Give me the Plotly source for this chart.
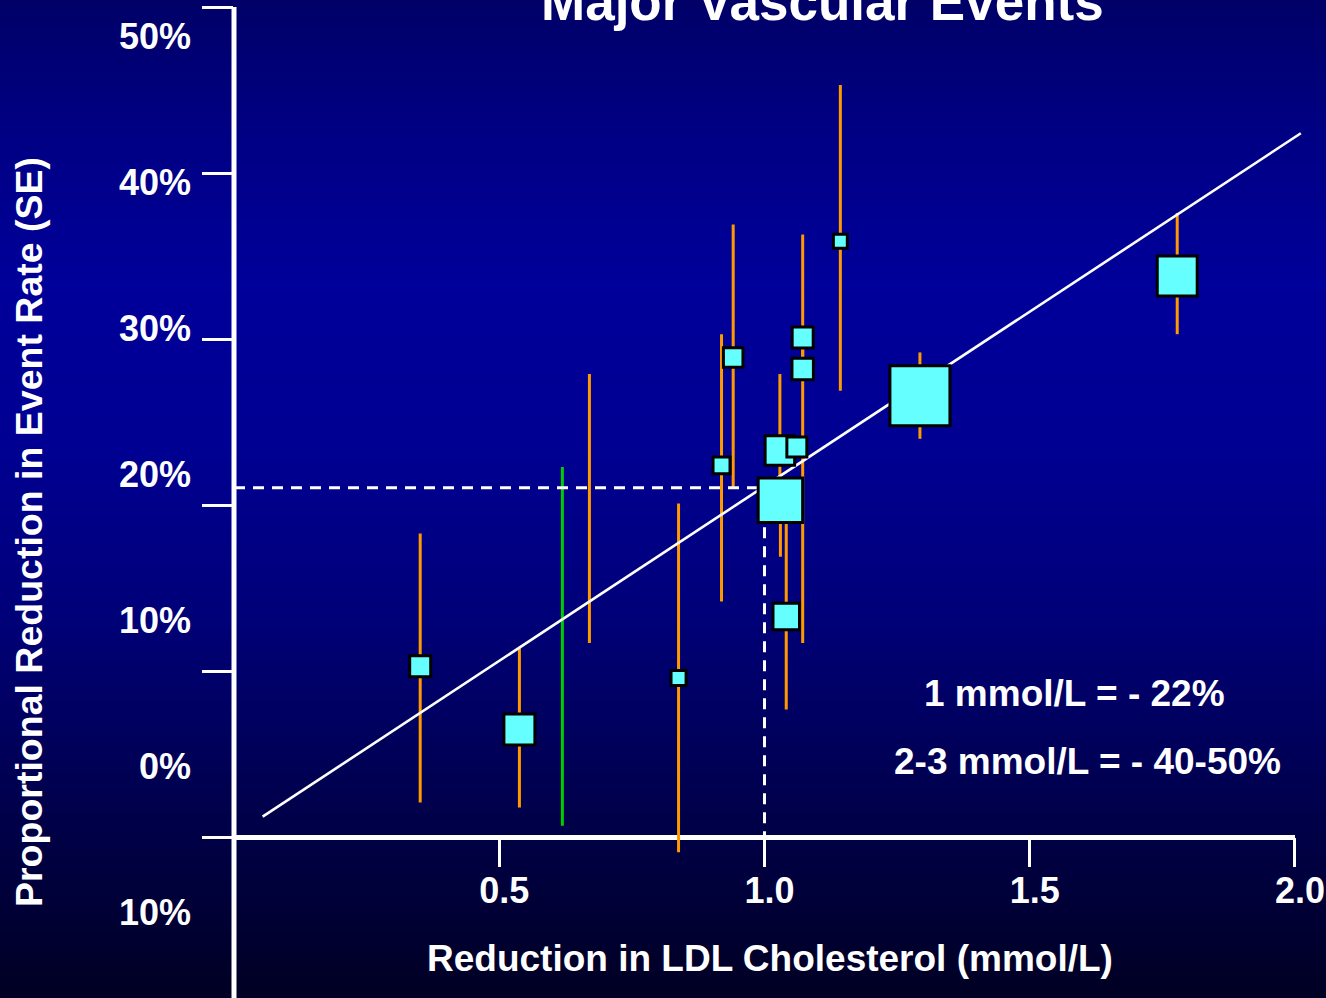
import zlib, struct, base64
import plotly.graph_objects as go

# ---------------- data ----------------
# studies drawn with a box (LDL reduction mmol/L, proportional reduction %, CI low, CI high, relative weight)
study_x  = [0.351, 0.538, 0.838, 0.919, 0.941, 1.029, 1.061, 1.072, 1.072, 1.030, 1.041, 1.143, 1.293, 1.778]
study_y  = [10.3,  6.5,   9.6,   22.4,  28.9,  23.3,  23.5,  30.1,  28.2,  20.3,  13.3,  35.9,  26.6,  33.8]
study_lo = [2.1,   1.8,  -0.9,   14.2,  21.1,  21.5,  22.9,  28.5,  11.7,  16.9,  7.7,   26.9,  24.0,  30.3]
study_hi = [18.3,  11.4,  20.1,  30.3,  36.9,  27.9,  24.1,  36.3,  29.5,  21.5,  18.9,  45.3,  29.2,  37.6]
study_w  = [12.3,  26.7,  6.3,   8.0,   10.6,  24.2,  11.1,  12.3,  12.8,  55.0,  19.5,  5.4,   100.0, 44.4]

# confidence intervals shown without a box
ci_only_x  = [0.670, 0.619]
ci_only_lo = [11.7, 0.7]
ci_only_hi = [27.9, 22.3]
ci_only_color = ["#FF9900", "#00CC00"]

# fitted line end points and the 1 mmol/L reference
fit_x = [0.054, 2.011]
fit_y = [1.25, 42.4]
ref_x = 1.0
ref_y = 21.05

y_ticks = [0, 10, 20, 30, 40, 50]
x_ticks = [0.5, 1.0, 1.5, 2.0]
x_tick_text = ["0.5", "1.0", "1.5", "2.0"]
label_vals = [50, 40, 30, 20, 10, 0, -10]
label_text = ["50%", "40%", "30%", "20%", "10%", "0%", "10%"]

title_text = "Major Vascular Events"
x_title = "Reduction in LDL Cholesterol (mmol/L)"
y_title = "Proportional Reduction in Event Rate (SE)"
note1 = "1 mmol/L = - 22%"
note2 = "2-3 mmol/L = - 40-50%"

# ---------------- layout geometry ----------------
W, H = 1326, 998
ML, MR, MT, MB = 234, 16, 7, 0
PW, PH = W - ML - MR, H - MT - MB
X_RANGE = [0, 2.0283]
Y_RANGE = [-9.67, 50.0]
Y2_RANGE = [-15.90, 52.02]

def px_x(p):
    return (p - ML) / PW

def px_y(p):
    return (H - MB - p) / PH

FONT = "Liberation Sans, Arial, Helvetica, sans-serif"

# background gradient as a tiny PNG
stops = [(0, 104), (120, 130), (280, 154), (450, 146), (620, 120), (800, 78), (998, 36)]
rows = []
N = 256
for i in range(N):
    p = i / (N - 1) * H
    for (p0, b0), (p1, b1) in zip(stops[:-1], stops[1:]):
        if p0 <= p <= p1:
            t = (p - p0) / (p1 - p0)
            b = b0 + (b1 - b0) * t
            break
    rows.append((0, 0, int(round(b))))

def make_png(rows):
    raw = b"".join(b"\x00" + bytes(c) * 2 for c in rows)
    def chunk(t, d):
        c = struct.pack(">I", len(d)) + t + d
        return c + struct.pack(">I", zlib.crc32(t + d) & 0xffffffff)
    png = (b"\x89PNG\r\n\x1a\n"
           + chunk(b"IHDR", struct.pack(">IIBBBBB", 2, len(rows), 8, 2, 0, 0, 0))
           + chunk(b"IDAT", zlib.compress(raw))
           + chunk(b"IEND", b""))
    return "data:image/png;base64," + base64.b64encode(png).decode()

bg = make_png(rows)

fig = go.Figure()

# CI lines
ci_x, ci_y = [], []
for x, lo, hi in zip(study_x, study_lo, study_hi):
    ci_x += [x, x, None]
    ci_y += [lo, hi, None]
fig.add_trace(go.Scatter(x=ci_x, y=ci_y, mode="lines",
                         line=dict(color="#FF9900", width=3), hoverinfo="skip", showlegend=False))
for x, lo, hi, c in zip(ci_only_x, ci_only_lo, ci_only_hi, ci_only_color):
    fig.add_trace(go.Scatter(x=[x, x], y=[lo, hi], mode="lines",
                             line=dict(color=c, width=3), hoverinfo="skip", showlegend=False))

# fitted line
fig.add_trace(go.Scatter(x=fit_x, y=fit_y, mode="lines",
                         line=dict(color="white", width=2.6), hoverinfo="skip", showlegend=False))
# dashed reference lines
fig.add_trace(go.Scatter(x=[0, ref_x, ref_x], y=[ref_y, ref_y, 0], mode="lines",
                         line=dict(color="white", width=3, dash="11px,8px"),
                         hoverinfo="skip", showlegend=False))

# boxes
max_d = 60
sizeref = 2.0 * max(study_w) / (max_d ** 2)
fig.add_trace(go.Scatter(x=study_x, y=study_y, mode="markers",
                         marker=dict(symbol="square", size=study_w, sizemode="area", sizeref=sizeref,
                                     opacity=1, color="#66FFFF", line=dict(color="black", width=3)),
                         showlegend=False))

# dummy trace for the label axis
fig.add_trace(go.Scatter(x=[None], y=[None], yaxis="y2", showlegend=False, hoverinfo="skip"))

# axis lines
fig.add_shape(type="line", xref="x", yref="y", x0=0, x1=2.0, y0=0, y1=0,
              line=dict(color="white", width=5), layer="below")
fig.add_shape(type="line", xref="paper", yref="paper", x0=0, x1=0, y0=0, y1=1,
              line=dict(color="white", width=5), layer="above")

fig.update_layout(
    width=W, height=H,
    margin=dict(l=ML, r=MR, t=MT, b=MB, pad=0),
    paper_bgcolor="#000060",
    plot_bgcolor="rgba(0,0,0,0)",
    showlegend=False,
    font=dict(family=FONT, color="white", size=36),
    xaxis=dict(range=X_RANGE, anchor="free", position=(0 - Y_RANGE[0]) / (Y_RANGE[1] - Y_RANGE[0]),
               showgrid=False, zeroline=False, showline=False,
               tickmode="array", tickvals=x_ticks, ticktext=x_tick_text,
               ticks="outside", ticklen=29, tickwidth=3, tickcolor="white",
               ticklabelstandoff=-8, ticklabelshift=5,
               tickfont=dict(family=FONT, size=36, color="white", weight="bold")),
    yaxis=dict(range=Y_RANGE, showgrid=False, zeroline=False, showline=False,
               tickmode="array", tickvals=y_ticks, ticks="outside", ticklen=31, tickwidth=3,
               tickcolor="white", showticklabels=False),
    yaxis2=dict(range=Y2_RANGE, overlaying="y", side="left", anchor="x",
                showgrid=False, zeroline=False, showline=False, ticks="",
                tickmode="array", tickvals=label_vals, ticktext=label_text,
                ticklabelstandoff=42,
                tickfont=dict(family=FONT, size=36, color="white", weight="bold")),
    images=[dict(source=bg, xref="paper", yref="paper", x=-ML / PW, y=1 + MT / PH,
                 sizex=W / PW, sizey=H / PH, sizing="stretch", layer="below",
                 xanchor="left", yanchor="top")],
    annotations=[
        dict(text=title_text, xref="paper", yref="paper", x=px_x(822), y=px_y(1),
             xanchor="center", yanchor="middle", showarrow=False,
             font=dict(family=FONT, size=53, color="white", weight="bold")),
        dict(text=x_title, xref="paper", yref="paper", x=px_x(770), y=px_y(958),
             xanchor="center", yanchor="middle", showarrow=False,
             font=dict(family=FONT, size=37, color="white", weight="bold")),
        dict(text=y_title, xref="paper", yref="paper", x=px_x(29), y=px_y(532),
             xanchor="center", yanchor="middle", showarrow=False, textangle=-90,
             font=dict(family=FONT, size=37.5, color="white", weight="bold")),
        dict(text=note1, xref="paper", yref="paper", x=px_x(1074), y=px_y(693),
             xanchor="center", yanchor="middle", showarrow=False,
             font=dict(family=FONT, size=37, color="white", weight="bold")),
        dict(text=note2, xref="paper", yref="paper", x=px_x(1087), y=px_y(761),
             xanchor="center", yanchor="middle", showarrow=False,
             font=dict(family=FONT, size=37, color="white", weight="bold")),
    ],
)

fig.write_html("out.html", config={"displayModeBar": False},
               post_script="document.body.style.margin='0';document.body.style.padding='0';")
